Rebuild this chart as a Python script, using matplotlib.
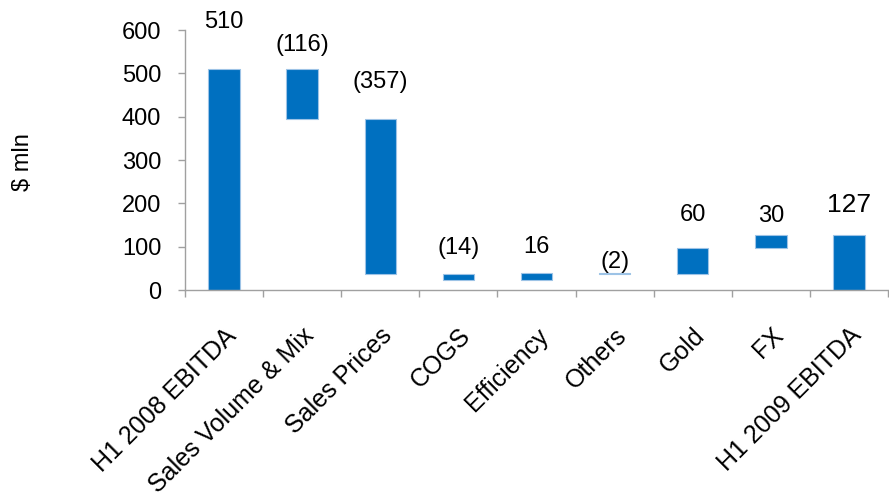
import numpy as np
from matplotlib import pyplot as plt
from matplotlib import transforms

# waterfall data ($ mln)
categories = ["H1 2008 EBITDA", "Sales Volume & Mix", "Sales Prices", "COGS",
              "Efficiency", "Others", "Gold", "FX", "H1 2009 EBITDA"]
changes = [510, -116, -357, -14, 16, -2, 60, 30, 127]
is_total = [True, False, False, False, False, False, False, False, True]
labels = ["510", "(116)", "(357)", "(14)", "16", "(2)", "60", "30", "127"]

# label offset above bar top, in points (as laid out in the original)
label_pad = [34, 17, 27, 19, 19, 8, 24, 14, 22]
label_size = [17, 17, 17, 17, 17, 17, 17, 17, 19]

plt.rcParams['font.family'] = ['Liberation Sans', 'DejaVu Sans']

# bottoms / heights for the floating bars
bottoms = []
heights = []
running = 0
for ch, tot in zip(changes, is_total):
    if tot:
        bottoms.append(0)
        heights.append(ch)
        running = ch
    else:
        start = running
        running = running + ch
        bottoms.append(min(start, running))
        heights.append(abs(ch))

fig = plt.figure(figsize=(8.89, 4.96), dpi=100)
ax = fig.add_axes([0.208, 0.415, 0.791, 0.5245])

x = np.arange(len(categories))
ax.bar(x, heights, bottom=bottoms, width=0.4, color='#0070C0',
       edgecolor='#9DC3E6', linewidth=0.8)

for xi, b, h, lab, pad, fs in zip(x, bottoms, heights, labels, label_pad, label_size):
    ax.annotate(lab, (xi, b + h), xytext=(0, pad), textcoords='offset points',
                ha='center', va='center', fontsize=fs, annotation_clip=False)

ax.set_xlim(-0.5, len(categories) - 0.5)
ax.set_ylim(0, 600)
ax.set_yticks(range(0, 601, 100))

# category labels at centres, tick marks at boundaries
ax.set_xticks(x)
ax.set_xticklabels(categories, rotation=45, ha='right', va='top',
                   rotation_mode='anchor', fontsize=18)
shift = transforms.ScaledTranslation(0.07, 0, fig.dpi_scale_trans)
for t in ax.get_xticklabels():
    t.set_transform(t.get_transform() + shift)
ax.set_xticks(np.arange(-0.5, len(categories)), minor=True)
ax.tick_params(axis='x', which='major', length=0, pad=24)
ax.tick_params(axis='x', which='minor', length=5, color='#A0A0A0', width=1)
ax.tick_params(axis='y', length=5, color='#A0A0A0', width=1, labelsize=17, pad=12)

for s in ['top', 'right']:
    ax.spines[s].set_visible(False)
for s in ['left', 'bottom']:
    ax.spines[s].set_color('#A0A0A0')
    ax.spines[s].set_linewidth(1)

fig.text(23 / 889, 1 - 162 / 496, "$ mln", rotation=90, ha='center', va='center',
         fontsize=17)

plt.savefig("out.png", dpi=100)
